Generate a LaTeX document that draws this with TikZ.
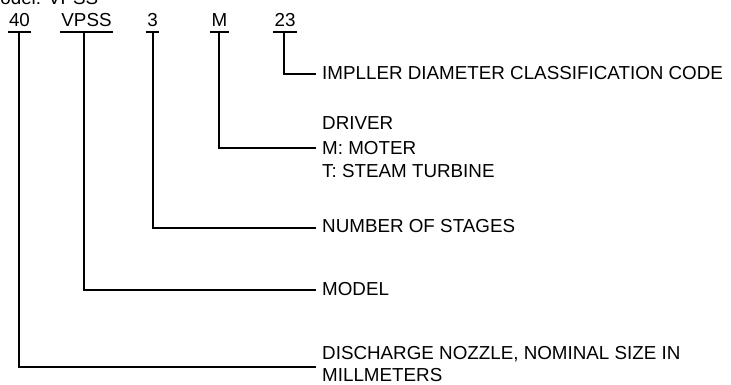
\documentclass[tikz,border=0pt]{standalone}
\usepackage{fontspec}
\setmainfont{Liberation Sans}
\begin{document}
\begin{tikzpicture}[x=1pt,y=-1pt,
  every node/.style={inner sep=0pt, font=\fontsize{18.8}{22}\selectfont},
  codelbl/.style={anchor=base},
  desc/.style={anchor=base west},
  conn/.style={line width=1.8pt}]
\useasboundingbox (0,0) rectangle (731,385);
% cut-off title
\node[desc] (title) at (-15.5,5) {Model: VPSS};
% code parts
\node[codelbl] (c40) at (19.5,27) {40};
\node[codelbl] (cV)  at (86.5,27) {VPSS};
\node[codelbl] (c3)  at (152.5,27) {3};
\node[codelbl] (cM)  at (219.5,27) {M};
\node[codelbl] (c23) at (285,27) {23};
% underlines
\foreach \n in {c40,cV,c3,cM,c23}{
  \draw[conn] ([shift={(-1,5)}]\n.base west) -- ([shift={(1,5)}]\n.base east);
}
% descriptions
\node[desc] (d23)  at (322,80)  {IMPLLER DIAMETER CLASSIFICATION CODE};
\node[desc] (dM1)  at (322,130) {DRIVER};
\node[desc] (dM2)  at (322,154) {M: MOTER};
\node[desc] (dM3)  at (322,178) {T: STEAM TURBINE};
\node[desc] (d3)   at (322,232) {NUMBER OF STAGES};
\node[desc] (dV)   at (322,295) {MODEL};
\node[desc] (d40a) at (322,359) {DISCHARGE NOZZLE, NOMINAL SIZE IN};
\node[desc] (d40b) at (322,381) {MILLMETERS};
% connector ends
\coordinate (e23) at (316,74);
\coordinate (eM)  at (316,148);
\coordinate (e3)  at (316,228);
\coordinate (eV)  at (316,290);
\coordinate (e40) at (316,367);
% connectors
\draw[conn] ([shift={(-0.5,5)}]c40.base) |- (e40);
\draw[conn] ([shift={(-2.5,5)}]cV.base) |- (eV);
\draw[conn] ([shift={(0.5,5)}]c3.base) |- (e3);
\draw[conn] ([shift={(-0.5,5)}]cM.base) |- (eM);
\draw[conn] ([shift={(-1,5)}]c23.base) |- (e23);
\end{tikzpicture}
\end{document}
